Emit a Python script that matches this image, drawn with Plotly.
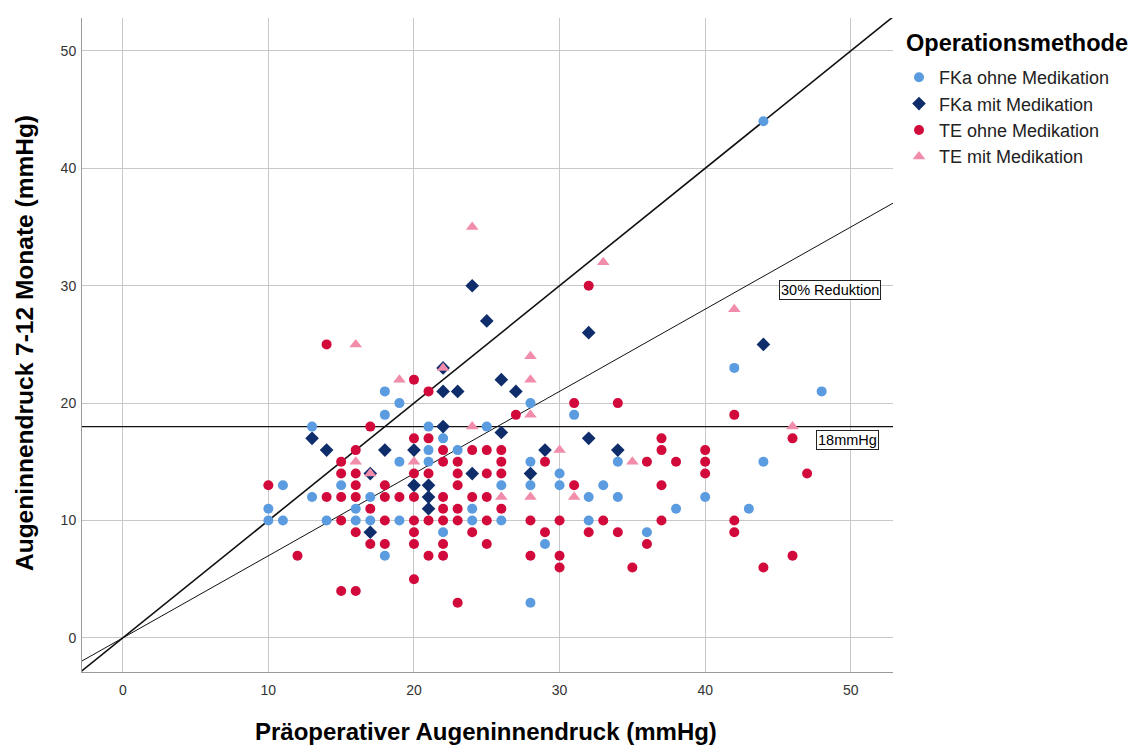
import plotly.graph_objects as go

# ---- data ----
fka_ohne_x = [10,10,11,11,13,13,14,15,16,16,17,17,18,18,18,19,19,19,21,21,21,22,22,23,24,24,25,26,26,28,28,28,28,29,30,30,31,32,32,33,34,34,36,38,40,42,43,44,44,48]
fka_ohne_y = [11,10,13,10,18,12,10,13,11,10,12,10,21,19,7,20,15,10,18,16,15,17,9,16,11,10,18,13,10,20,15,13,3,8,14,13,19,12,10,13,15,12,9,11,12,23,11,44,15,21]

fka_mit_x = [13,14,17,17,18,20,20,21,21,21,22,22,22,23,24,24,25,26,26,27,28,29,32,32,34,44]
fka_mit_y = [17,16,14,9,16,16,13,13,12,11,23,21,18,21,30,14,27,22,17.5,21,14,16,26,17,16,25]

te_ohne_x = [10,12,14,14,15,15,15,15,15,16,16,16,16,16,16,17,17,17,18,18,18,18,19,
             20,20,20,20,20,20,20,20,21,21,21,21,21,22,22,22,22,22,22,22,
             23,23,23,23,23,23,24,24,24,25,25,25,25,25,26,26,26,26,27,28,28,
             29,29,30,30,30,31,31,32,32,33,34,34,35,36,36,37,37,37,37,38,
             40,40,40,42,42,42,44,46,46,47]
te_ohne_y = [13,7,25,12,15,14,12,10,4,16,14,13,12,9,4,18,11,8,13,12,10,8,12,
             22,17,14,12,10,9,8,5,21,17,14,10,7,16,15,12,11,10,8,7,
             15,14,13,11,10,3,16,12,9,16,14,12,10,8,16,15,14,11,19,10,7,
             15,9,10,7,6,20,13,30,9,10,20,9,6,15,8,17,16,13,10,15,
             16,15,14,19,10,9,6,17,7,14]

te_mit_x = [16,16,17,19,20,22,24,24,26,28,28,28,28,30,31,33,35,42,46]
te_mit_y = [25,15,14,22,15,23,35,18,12,24,22,19,12,16,12,32,15,28,18]

group_names = ["FKa ohne Medikation", "FKa mit Medikation", "TE ohne Medikation", "TE mit Medikation"]
group_colors = ["#5b9be0", "#0f2d6b", "#d20a3c", "#f28cab"]
group_symbols = ["circle", "diamond", "circle", "triangle-up"]
group_sizes = [10, 10.5, 10, 11]

ref_slopes = [1.0, 0.7]          # identity line, 30% reduction line
ref_widths = [1.6, 1.0]
threshold_y = 18
x_range = [-2.8, 52.9]
y_range = [-2.9, 52.8]
tick_vals = [0, 10, 20, 30, 40, 50]

FONT = "Liberation Sans, Arial"

# plot area in pixels (for paper-coordinate placement of titles)
PL, PR, PT, PB = 82, 893, 18, 672
def px(xp): return (xp - PL) / (PR - PL)
def py(yp): return (PB - yp) / (PB - PT)

fig = go.Figure()

line_x = [-10, 70]
for s, w in zip(ref_slopes, ref_widths):
    fig.add_trace(go.Scatter(x=line_x, y=[s * v for v in line_x], mode="lines",
                             line=dict(color="#111111", width=w),
                             showlegend=False, hoverinfo="skip"))
fig.add_trace(go.Scatter(x=line_x, y=[threshold_y, threshold_y], mode="lines",
                         line=dict(color="#111111", width=1.1),
                         showlegend=False, hoverinfo="skip"))

groups = [(fka_ohne_x, fka_ohne_y), (fka_mit_x, fka_mit_y), (te_ohne_x, te_ohne_y), (te_mit_x, te_mit_y)]
for (gx, gy), name, col, sym, sz in zip(groups, group_names, group_colors, group_symbols, group_sizes):
    fig.add_trace(go.Scatter(x=gx, y=gy, mode="markers", name=name,
                             marker=dict(color=col, symbol=sym, size=sz, line=dict(width=0))))

fig.add_annotation(x=48.6, y=29.6, xref="x", yref="y", text="30% Reduktion", showarrow=False,
                   font=dict(family=FONT, size=14.5, color="#000"),
                   bgcolor="white", bordercolor="#222", borderwidth=1, borderpad=1)
fig.add_annotation(x=49.75, y=16.9, xref="x", yref="y", text="18mmHg", showarrow=False,
                   font=dict(family=FONT, size=14.5, color="#000"),
                   bgcolor="white", bordercolor="#222", borderwidth=1, borderpad=1)

# axis titles
fig.add_annotation(x=px(486), y=py(731), xref="paper", yref="paper",
                   text="<b>Präoperativer Augeninnendruck (mmHg)</b>", showarrow=False,
                   xanchor="center", yanchor="middle",
                   font=dict(family=FONT, size=24, color="#000"))
fig.add_annotation(x=px(24), y=py(343), xref="paper", yref="paper",
                   text="<b>Augeninnendruck 7-12 Monate (mmHg)</b>", textangle=-90,
                   xanchor="center", yanchor="middle",
                   showarrow=False, font=dict(family=FONT, size=24.5, color="#000"))
# legend title
fig.add_annotation(x=px(904), y=py(43), xref="paper", yref="paper",
                   text="<b>Operationsmethode</b>", showarrow=False,
                   xanchor="left", yanchor="middle",
                   font=dict(family=FONT, size=23.5, color="#000"))

axis_common = dict(showgrid=True, gridcolor="#c8c8c8", gridwidth=1, zeroline=False,
                   showline=True, linecolor="#9a9a9a", linewidth=1, ticks="",
                   tickvals=tick_vals, tickfont=dict(family=FONT, size=14, color="#333"))

fig.update_xaxes(range=x_range, ticklabelstandoff=5, **axis_common)
fig.update_yaxes(range=y_range, ticklabelstandoff=2, **axis_common)

fig.update_layout(
    width=1136, height=745,
    margin=dict(l=PL, r=1136 - PR, t=PT, b=745 - PB, autoexpand=False),
    paper_bgcolor="white", plot_bgcolor="white",
    legend=dict(x=px(899), y=py(59), xanchor="left", yanchor="top",
                font=dict(family=FONT, size=18, color="#222"),
                tracegroupgap=0, itemsizing="trace"),
)

fig.write_html("out.html")
